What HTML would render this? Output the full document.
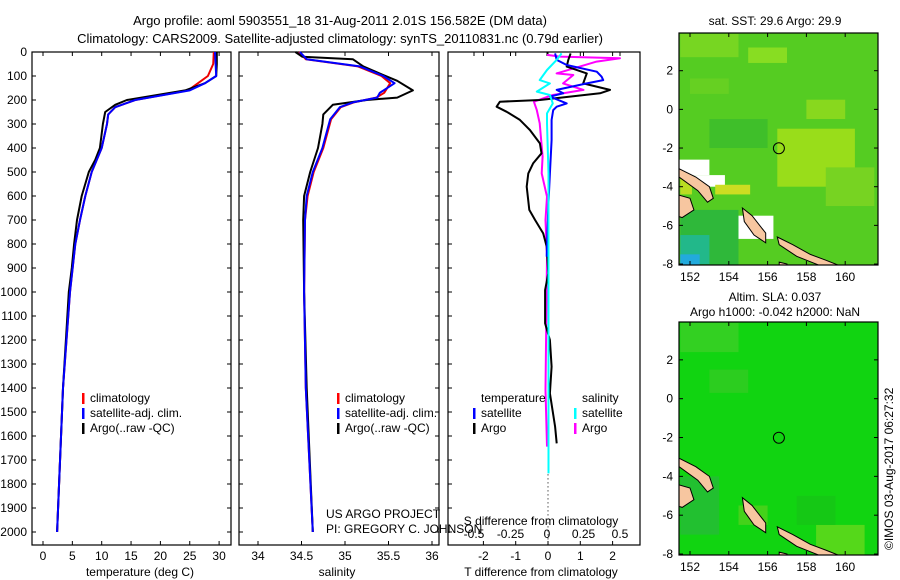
<!DOCTYPE html>
<html><head><meta charset="utf-8">
<style>
body{margin:0;background:#fff;}
svg{display:block;font-family:"Liberation Sans",sans-serif;}
text{fill:#000;}
</style></head>
<body>
<svg id="fig" width="900" height="580" viewBox="0 0 900 580">
<text x="340" y="25" font-size="13" text-anchor="middle">Argo profile: aoml 5903551_18 31-Aug-2011 2.01S 156.582E (DM data)</text>
<text x="340" y="43" font-size="13" text-anchor="middle">Climatology: CARS2009. Satellite-adjusted climatology: synTS_20110831.nc (0.79d earlier)</text>
<g id="p1"></g>
<g id="p2"></g>
<g id="p3"></g>
<g id="m1"></g>
<g id="m2"></g>
<text transform="translate(893,550) rotate(-90)" font-size="12">©IMOS 03-Aug-2017 06:27:32</text>
</svg>
<script>
const NS="http://www.w3.org/2000/svg";
// ---- data ----
const depthTicks=[0,100,200,300,400,500,600,700,800,900,1000,1100,1200,1300,1400,1500,1600,1700,1800,1900,2000];
const tempTicks=[0,5,10,15,20,25,30];
const salTicks=[34,34.5,35,35.5,36];
const tdTicks=[-2,-1,0,1,2];
const sdTicks=[-0.5,-0.25,0,0.25,0.5];
const tArgoDepth=[0,50,100,130,160,200,220,250,300,400,450,500,600,700,800,900,1000,1400,2000];
const tArgo=[29.6,29.6,29.5,27.6,24.2,14.3,12.3,10.6,10.2,9.7,8.9,7.8,6.6,5.8,5.3,4.9,4.4,3.4,2.4];
const tSatDepth=[0,100,130,160,200,230,260,300,400,500,600,700,800,1000,1400,2000];
const tSat=[29.3,29.5,27.6,25.0,15.7,12.3,11.1,10.9,10.0,8.3,7.2,6.3,5.5,4.6,3.4,2.4];
const tClimDepth=[0,50,100,130,160,200,230,260,300,400,500,600,700,800,1000,1400,2000];
const tClim=[29.1,29.0,28.1,26.4,24.7,15.7,12.3,11.1,10.9,10.0,8.3,7.2,6.3,5.5,4.6,3.4,2.4];
const sArgoDepth=[0,20,30,60,90,120,160,190,200,220,260,300,400,500,600,700,1000,1400,2000];
const sArgo=[34.43,34.51,35.09,35.21,35.40,35.60,35.78,35.60,35.25,34.86,34.75,34.74,34.69,34.60,34.53,34.52,34.53,34.56,34.63];
const sSatDepth=[0,30,60,100,130,170,190,210,230,280,400,500,600,700,1000,1400,2000];
const sSat=[34.48,34.56,35.17,35.44,35.57,35.40,35.37,35.09,34.94,34.83,34.74,34.63,34.56,34.54,34.53,34.55,34.63];
const sClim=[34.47,34.55,35.15,35.42,35.52,35.45,35.36,35.10,34.95,34.84,34.75,34.64,34.57,34.54,34.53,34.55,34.63];
const dTArgoDepth=[6,33,61,89,131,158,172,200,207,228,249,283,325,381,422,464,506,561,658,700,756,811,922,992,1131,1200,1311,1422,1561,1631];
const dTArgo=[0.7,0.63,0.58,1.2,1.09,1.92,1.61,-0.25,-1.49,-1.59,-1.28,-0.87,-0.56,-0.25,-0.2,-0.46,-0.61,-0.66,-0.58,-0.4,-0.15,-0.04,0.01,-0.09,-0.09,0.06,0.11,0.06,0.22,0.27];
const dTSatDepth=[6,33,54,82,103,117,131,158,172,186,214,228,242,283,367,506,644,853];
const dTSat=[0.22,0.27,0.58,1.51,1.66,1.71,1.2,0.27,0.47,0.06,0.58,0.27,0.16,0.11,0.11,0.06,0.01,-0.04];
const dSArgoDepth=[12,19,26,40,89,96,131,158,179,207,242,297,436,506,603,700,853,1408,1644];
const dSArgo=[0.0,0.09,0.5,0.34,0.066,0.18,0.11,0.25,0.04,-0.09,-0.07,-0.05,-0.03,-0.036,0.0,-0.01,0,-0.01,0];
const dSSatDepth=[6,33,75,117,131,165,179,214,256,297,506,1756];
const dSSat=[0.1,0.066,0,-0.05,0.02,-0.07,0.02,0.04,0,0,0.01,0.01];
const lonTicks=[152,154,156,158,160];
const latTicks=[2,0,-2,-4,-6,-8];
const floatLon=156.582, floatLat=-2.01;

// ---- helpers ----
function el(tag,attrs,parent,txt){const e=document.createElementNS(NS,tag);for(const k in attrs)e.setAttribute(k,attrs[k]);if(txt!==undefined)e.textContent=txt;parent.appendChild(e);return e;}
const yD=d=>52+d*0.24;
const TOP=52,BOT=545;
function box(g,x0,x1){const r=el('rect',{x:x0,y:TOP,width:x1-x0,height:BOT-TOP,fill:'none',stroke:'#000','stroke-width':1.2},g);}
function line(g,xs,ds,fx,color,w,name){const pts=xs.map((v,i)=>fx(v).toFixed(1)+','+yD(ds[i]).toFixed(1)).join(' ');const p=el('polyline',{points:pts,fill:'none',stroke:color,'stroke-width':w,'stroke-linejoin':'round'},g);}
function xTicks(g,ticks,fx,yl,fmt){ticks.forEach(t=>{const x=fx(t);el('line',{x1:x,x2:x,y1:TOP,y2:TOP+4,stroke:'#000'},g);el('line',{x1:x,x2:x,y1:BOT,y2:BOT-4,stroke:'#000'},g);const tx=el('text',{x:x,y:yl,'font-size':12,'text-anchor':'middle'},g,fmt?fmt(t):String(t));});}
function yTicksMarks(g,x0,x1){depthTicks.forEach(d=>{const y=yD(d);el('line',{x1:x0,x2:x0+4,y1:y,y2:y,stroke:'#000'},g);el('line',{x1:x1,x2:x1-4,y1:y,y2:y,stroke:'#000'},g);});}
function legend(g,x,y,items){items.forEach((it,i)=>{el('rect',{x:x,y:y+i*15-9,width:2.5,height:11,fill:it[1]},g);const t=el('text',{x:x+8,y:y+i*15,'font-size':12},g,it[0]);});}

// ---- panel 1 ----
const p1=document.getElementById('p1');
const fT=t=>43+t*5.87;
box(p1,32,231);yTicksMarks(p1,32,231);
depthTicks.forEach(d=>{const t=el('text',{x:27,y:yD(d)+4,'font-size':12,'text-anchor':'end'},p1,String(d));});
xTicks(p1,tempTicks,fT,560);
el('text',{x:140,y:576,'font-size':12,'text-anchor':'middle'},p1,'temperature (deg C)');
line(p1,tClim,tClimDepth,fT,'#e00',2,'temp-climatology');
line(p1,tArgo,tArgoDepth,fT,'#000',2,'temp-argo');
line(p1,tSat,tSatDepth,fT,'#0000ff',2,'temp-satellite');
legend(p1,82,402,[['climatology','#f00'],['satellite-adj. clim.','#00f'],['Argo(..raw -QC)','#000']]);

// ---- panel 2 ----
const p2=document.getElementById('p2');
const fS=s=>258+(s-34)*87;
box(p2,239,439);yTicksMarks(p2,239,439);
xTicks(p2,salTicks,fS,560);
el('text',{x:337,y:576,'font-size':12,'text-anchor':'middle'},p2,'salinity');
line(p2,sClim,sSatDepth,fS,'#e00',2,'sal-climatology');
line(p2,sArgo,sArgoDepth,fS,'#000',2,'sal-argo');
line(p2,sSat,sSatDepth,fS,'#0000ff',2,'sal-satellite');
legend(p2,337,402,[['climatology','#f00'],['satellite-adj. clim.','#00f'],['Argo(..raw -QC)','#000']]);
el('text',{x:326,y:518,'font-size':12},p2,'US ARGO PROJECT');
el('text',{x:326,y:533,'font-size':12},p2,'PI: GREGORY C. JOHNSON');

// ---- panel 3 ----
const p3=document.getElementById('p3');
const fTD=v=>548+v*32.3;
const fSD=v=>547+v*146;
box(p3,448,640);
depthTicks.forEach(d=>{const y=yD(d);el('line',{x1:448,x2:452,y1:y,y2:y,stroke:'#000'},p3);});
xTicks(p3,tdTicks,fTD,560);
sdTicks.forEach(t=>{const x=fSD(t);el('line',{x1:x,x2:x,y1:TOP,y2:TOP+4,stroke:'#000'},p3);el('text',{x:x,y:538,'font-size':12,'text-anchor':'middle'},p3,String(t));});
el('text',{x:541,y:525,'font-size':12,'text-anchor':'middle'},p3,'S difference from climatology');
el('text',{x:541,y:576,'font-size':12,'text-anchor':'middle'},p3,'T difference from climatology');
el('line',{x1:fTD(0),x2:fTD(0),y1:yD(1760),y2:BOT,stroke:'#000','stroke-dasharray':'1,3'},p3);
line(p3,dSArgo,dSArgoDepth,fSD,'#ff00ff',2,'sal-diff-argo');
line(p3,dTArgo,dTArgoDepth,fTD,'#000',2,'temp-diff-argo');
line(p3,dTSat,dTSatDepth,fTD,'#0000ff',2,'temp-diff-satellite');
line(p3,dSSat,dSSatDepth,fSD,'#00ffff',2,'sal-diff-satellite');
el('text',{x:481,y:402,'font-size':12},p3,'temperature');
el('text',{x:582,y:402,'font-size':12},p3,'salinity');
legend(p3,473,417,[['satellite','#00f'],['Argo','#000']]);
legend(p3,574,417,[['satellite','#0ff'],['Argo','#f0f']]);

// ---- maps ----
function map(id,top,bot,bg,patches,title,tY){
 const g=document.getElementById(id);
 const L=679,R=878;
 const k=(bot-top)/12.0;
 const fx=lon=>690+(lon-152)*19.4;
 const fy=lat=>top+(3.95-lat)*k;
 const cp='clip'+id;
 const d=el('defs',{},g);const c=el('clipPath',{id:cp},d);el('rect',{x:L,y:top,width:R-L,height:bot-top},c);
 const inner=el('g',{'clip-path':'url(#'+cp+')'},g);
 el('rect',{x:L,y:top,width:R-L,height:bot-top,fill:bg},inner);
 patches.forEach(p=>el('rect',{x:fx(p[0]),y:fy(p[1]),width:p[2]*19.4,height:p[3]*k,fill:p[4]},inner));
 const land=[
  [[151.3,-3.0],[152.3,-3.5],[153.0,-4.0],[153.2,-4.6],[152.9,-4.8],[152.4,-4.2],[151.3,-3.4]],
  [[151.3,-4.4],[152.0,-4.6],[152.2,-5.2],[151.6,-5.6],[151.3,-5.5]],
  [[154.7,-5.1],[155.2,-5.5],[155.9,-6.4],[155.9,-6.9],[155.3,-6.5],[154.8,-5.8]],
  [[156.5,-6.6],[157.3,-7.0],[158.2,-7.5],[159.0,-7.8],[160.0,-8.2],[159.0,-8.2],[157.5,-7.6],[156.6,-7.0]],
  [[156.6,-7.9],[157.0,-8.0],[157.0,-8.3],[156.6,-8.3]]
 ];
 land.forEach(poly=>{const p=el('polygon',{points:poly.map(q=>fx(q[0]).toFixed(1)+','+fy(q[1]).toFixed(1)).join(' '),fill:'#f7c6a0',stroke:'#000','stroke-width':1},inner);});
 el('circle',{cx:fx(floatLon),cy:fy(floatLat),r:5.5,fill:'none',stroke:'#000','stroke-width':1},inner);
 el('rect',{x:L,y:top,width:R-L,height:bot-top,fill:'none',stroke:'#000','stroke-width':1.2},g);
 lonTicks.forEach(t=>{const x=fx(t);el('line',{x1:x,x2:x,y1:top,y2:top+4,stroke:'#000'},g);el('line',{x1:x,x2:x,y1:bot,y2:bot-4,stroke:'#000'},g);el('text',{x:x,y:bot+16,'font-size':12,'text-anchor':'middle'},g,String(t));});
 latTicks.forEach(t=>{const y=fy(t);el('line',{x1:L,x2:L+4,y1:y,y2:y,stroke:'#000'},g);el('line',{x1:R,x2:R-4,y1:y,y2:y,stroke:'#000'},g);el('text',{x:L-6,y:y+4,'font-size':12,'text-anchor':'end'},g,String(t));});
 title.forEach((t,i)=>el('text',{x:775,y:tY+i*15,'font-size':12,'text-anchor':'middle'},g,t));
}
map('m1',33,265,'#55cc22',[
 [151.5,3.9,3,1.2,'#77d622'],[155,3.2,2,0.8,'#88dd22'],[152,1.6,2,0.8,'#66d022'],
 [153,-0.5,3,1.5,'#3fbf2a'],[156.5,-1,4,3,'#99dd1a'],[158,0.5,2,1,'#88d81e'],
 [159,-3,2.5,2,'#77d322'],[151.5,-5.2,3,3,'#2fb83a'],[151.5,-6.5,1.5,1.5,'#22b88a'],[151.5,-7.5,1,0.6,'#22aadd'],
 [151.3,-2.6,1.7,0.8,'#ffffff'],[152.0,-3.4,1.8,0.6,'#ffffff'],[151.5,-3.6,0.6,0.8,'#bbdd22'],[154.5,-5.5,1.8,1.2,'#ffffff'],[153.3,-3.9,1.8,0.5,'#ccdd22']
],['sat. SST: 29.6  Argo: 29.9'],25);
map('m2',322,555,'#11d411',[
 [151.5,3.9,3,1.5,'#33d022'],[153,1.5,2,1.2,'#2ccd1f'],[151.5,-4,2,3,'#22c030'],
 [158.5,-6.5,2.5,2,'#55d81a'],[157.5,-5,2,1.5,'#15c815'],[154.5,-5.5,1.5,1,'#44d21a']
],['Altim. SLA: 0.037','Argo h1000: -0.042 h2000: NaN'],301);
</script>
</body></html>
